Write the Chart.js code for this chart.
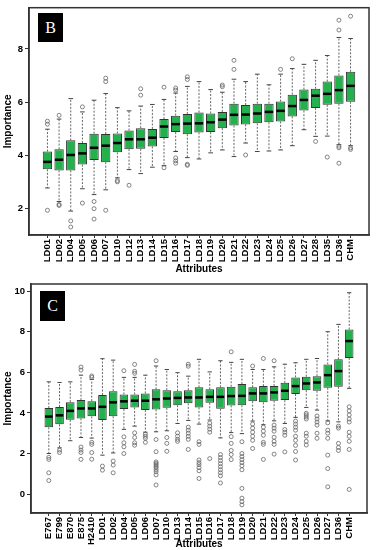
<!DOCTYPE html>
<html><head><meta charset="utf-8">
<script src="https://cdn.jsdelivr.net/npm/chart.js@4.4.1/dist/chart.umd.min.js"></script>
<style>
html,body{margin:0;padding:0;background:#fff;width:376px;height:550px;overflow:hidden}
.wrap{position:absolute;left:0;width:376px;height:275px}
.tag{position:absolute;background:#000;color:#fff;font-family:"Liberation Serif","DejaVu Serif",serif;font-size:16px;text-align:center}
</style></head><body>
<div class="wrap" style="top:0"><canvas id="cB" width="376" height="275"></canvas></div>
<div class="wrap" style="top:275px"><canvas id="cC" width="376" height="275"></canvas></div>
<div class="tag" style="left:38px;top:13px;width:25px;height:29px;line-height:29px">B</div>
<div class="tag" style="left:40px;top:291px;width:25px;height:30px;line-height:30px">C</div>
<script>
// ---------- Panel B ----------
const bCats = ['LD01','LD02','LD04','LD05','LD06','LD07','LD10','LD12','LD13','LD14','LD15','LD16','LD17','LD18','LD19','LD20','LD21','LD22','LD23','LD24','LD25','LD26','LD27','LD28','LD35','LD36','CHM'];
const bLow  = [2.77,2.26,1.90,2.74,2.52,2.70,3.15,3.46,3.31,3.55,3.61,4.14,3.91,3.86,4.09,4.20,3.95,4.46,4.14,4.16,4.20,4.36,4.96,4.71,4.72,4.40,4.36];
const bQ1   = [3.47,3.43,3.43,3.65,3.82,3.74,4.11,4.23,4.24,4.33,4.65,4.87,4.79,4.86,4.87,5.02,5.12,5.16,5.20,5.24,5.27,5.46,5.68,5.78,5.90,5.94,6.01];
const bMed  = [3.75,3.83,4.01,4.07,4.28,4.36,4.46,4.60,4.60,4.66,5.08,5.17,5.19,5.20,5.24,5.34,5.52,5.53,5.57,5.63,5.67,5.85,6.08,6.24,6.31,6.45,6.61];
const bQ3   = [4.14,4.23,4.56,4.46,4.81,4.80,4.82,4.93,5.02,4.99,5.36,5.49,5.55,5.61,5.57,5.63,5.94,5.89,5.94,5.94,6.02,6.28,6.47,6.50,6.77,7.00,7.14];
const bHigh = [4.98,5.36,6.13,5.63,6.07,6.32,5.79,5.67,5.85,5.91,6.10,6.34,6.59,6.77,6.47,6.37,6.86,6.77,7.05,6.65,7.05,7.26,7.42,7.57,7.75,8.43,8.39];
const bOut  = [[5.28,5.17,1.93],[5.50,2.15,2.11],[1.53,1.30],[5.82,2.20],[2.26,1.99,1.60],[6.90,6.77,1.93],[3.05,3.00],[2.87],[6.50,6.26],[],[6.56,3.53],[6.53,6.45,3.90,3.79,3.70],[6.95,6.85,3.66,3.62],[],[],[6.64,6.58],[7.57,7.23],[4.01],[],[],[7.23],[7.63],[],[4.52],[3.93],[9.08,8.71,4.34,4.28,3.70],[9.23,4.28,4.22]];
const bYTicks = [2,4,6,8];

// ---------- Panel C ----------
const cCats = ['E767','E799','E870','E875','H2410','LD01','LD02','LD04','LD05','LD06','LD07','LD10','LD13','LD14','LD15','LD16','LD17','LD18','LD19','LD20','LD21','LD22','LD23','LD24','LD25','LD26','LD27','LD36','CHM'];
const cLow  = [2.00,2.28,2.63,2.79,2.76,1.92,2.03,3.19,3.35,3.05,3.07,3.12,3.48,3.63,3.45,3.65,2.77,3.03,2.98,3.60,3.42,3.61,3.48,3.78,4.27,4.14,3.61,3.56,5.21];
const cQ1   = [3.29,3.44,3.66,3.73,3.83,3.65,3.84,4.19,4.27,4.14,4.17,4.25,4.38,4.47,4.27,4.50,4.20,4.37,4.38,4.58,4.52,4.60,4.63,4.93,5.12,5.09,5.24,5.29,6.71];
const cMed  = [3.82,3.88,4.10,4.22,4.22,4.30,4.52,4.57,4.60,4.60,4.67,4.71,4.74,4.76,4.76,4.79,4.79,4.83,4.84,4.96,4.96,5.01,5.09,5.32,5.45,5.50,5.86,6.06,7.54];
const cQ3   = [4.24,4.29,4.53,4.63,4.58,4.88,5.07,4.91,4.91,4.96,5.16,5.12,5.07,5.12,5.26,5.16,5.26,5.29,5.42,5.26,5.32,5.32,5.48,5.75,5.78,5.81,6.39,6.64,8.11];
const cHigh = [5.53,5.50,5.53,5.86,5.65,6.67,6.60,5.75,5.75,5.86,6.31,6.14,5.98,5.81,6.64,6.02,6.57,6.49,6.64,6.14,6.14,6.27,6.40,6.47,6.64,6.68,8.00,8.36,9.92];
const cOut  = [[1.81,1.71,1.05,0.67],[2.17,2.05],[],[6.26,6.11,2.32,2.17,2.05,1.71],[5.82,5.75,2.55,2.45,2.05,1.72],[1.38,1.18],[1.63,1.43,1.05],[6.08,2.82,2.53,2.33,2.00],[6.39,6.05,5.95,3.02,2.79,2.53,2.41],[2.95,2.85,2.75,2.55],[6.57,2.69,2.09,1.59,1.52,1.45,1.37,1.30,1.20,1.10,0.95,0.45],[2.79,2.50,2.11],[3.02,2.85,2.70,2.60],[6.40,6.30,3.30,3.15,3.00,2.85,2.70,2.20],[2.58,2.45,1.68,1.55,1.45,1.30,1.15,0.77],[3.50,3.35,3.20,3.05,1.75],[1.95,1.80,1.65,1.50,1.35,1.20,1.05,0.90,0.55],[7.01,2.83,2.50,2.15,1.95,1.70],[2.58,2.00,1.85,1.70,1.55,1.40,1.20,0.28,-0.20,-0.37,-0.53],[6.31,3.45,3.25,3.05,2.85,2.65,2.25],[6.68,3.30,3.10,2.90,2.55,2.45,1.71],[6.57,3.40,3.25,3.10,2.80,2.60,2.45,1.97],[3.18,3.05,2.90,2.08],[3.60,3.45,3.30,3.15,2.85,2.65,2.40,2.10,1.68],[3.98,3.90,3.80,3.70,3.00,2.85,2.60,2.42],[3.85,3.70,3.55,3.40,3.00,2.75],[3.51,3.15,3.00,2.75,1.92,1.26,0.36],[3.35,3.25,2.50,2.30,2.15],[4.30,4.10,3.90,3.70,3.55,3.05,2.85,2.60,2.20,0.23]];
const cYTicks = [0,2,4,6,8,10];

const FONT = '"Liberation Sans", Arial, sans-serif';
const GREEN = '#22B14C';

function boxPlugin(low, med, high){
  return {
    id: 'boxExtras',
    beforeDatasetsDraw(chart){
      const {ctx, scales:{x, y}} = chart;
      const meta = chart.getDatasetMeta(0);
      ctx.save();
      meta.data.forEach((bar, i) => {
        const cx = x.getPixelForValue(i + 1);
        const hw = bar.width / 2;
        const top = Math.min(bar.y, bar.base), bot = Math.max(bar.y, bar.base);
        const yh = y.getPixelForValue(high[i]), yl = y.getPixelForValue(low[i]);
        ctx.strokeStyle = '#666'; ctx.lineWidth = 1; ctx.setLineDash([2, 1.5]);
        ctx.beginPath(); ctx.moveTo(cx, top); ctx.lineTo(cx, yh); ctx.moveTo(cx, bot); ctx.lineTo(cx, yl); ctx.stroke();
        ctx.setLineDash([]); ctx.strokeStyle = '#444';
        ctx.beginPath(); ctx.moveTo(cx - hw/2, yh); ctx.lineTo(cx + hw/2, yh); ctx.moveTo(cx - hw/2, yl); ctx.lineTo(cx + hw/2, yl); ctx.stroke();
      });
      ctx.restore();
    },
    afterDatasetsDraw(chart){
      const {ctx, scales:{y}} = chart;
      const meta = chart.getDatasetMeta(0);
      ctx.save();
      ctx.strokeStyle = '#000'; ctx.lineWidth = 2.5;
      meta.data.forEach((bar, i) => {
        const ym = y.getPixelForValue(med[i]);
        ctx.beginPath(); ctx.moveTo(bar.x - bar.width/2 + 0.5, ym); ctx.lineTo(bar.x + bar.width/2 - 0.5, ym); ctx.stroke();
      });
      ctx.restore();
    },
    afterDraw(chart){
      const {ctx, chartArea:a} = chart;
      ctx.save(); ctx.strokeStyle = '#333'; ctx.lineWidth = 1.5;
      ctx.strokeRect(a.left, a.top, a.right - a.left, a.bottom - a.top);
      ctx.restore();
    }
  };
}

function makeChart(id, cats, low, q1, med, q3, high, out, yTicks, yMin, yMax, lay){
  const n = cats.length, pad = 0.04 * n;
  const boxes = cats.map((c, i) => ({x: i + 1, y: [q1[i], q3[i]]}));
  const pts = [];
  out.forEach((arr, i) => arr.forEach(v => pts.push({x: i + 1, y: v})));
  new Chart(document.getElementById(id), {
    type: 'bar',
    data: {
      datasets: [
        {data: boxes, backgroundColor: GREEN, borderColor: '#333', borderWidth: 1, borderSkipped: false,
         categoryPercentage: 1, barPercentage: 0.8},
        {type: 'scatter', data: pts, pointRadius: 2, pointBorderWidth: 0.8,
         pointBorderColor: '#666', pointBackgroundColor: 'rgba(0,0,0,0)', showLine: false}
      ]
    },
    options: {
      responsive: false, animation: false,
      layout: {padding: {left: 0, right: lay.right, top: lay.top, bottom: 0}},
      plugins: {legend: {display: false}, tooltip: {enabled: false}},
      scales: {
        x: {
          type: 'linear', min: 0.5 - pad, max: n + 0.5 + pad, offset: false,
          afterBuildTicks: s => { s.ticks = cats.map((c, i) => ({value: i + 1})); },
          afterFit: s => { s.height = lay.xh; },
          ticks: {autoSkip: false, minRotation: 90, maxRotation: 90, padding: 1, color: '#000',
                  font: {family: FONT, size: 9.5, weight: 'bold'},
                  callback: v => cats[Math.round(v) - 1] ?? ''},
          grid: {drawOnChartArea: false, drawTicks: true, tickLength: 3, color: '#333', offset: false},
          border: {display: true, color: '#333', width: 1.5},
          title: {display: true, text: 'Attributes', color: '#000', padding: {top: 0, bottom: 0},
                  font: {family: FONT, size: 10, weight: 'bold'}}
        },
        y: {
          type: 'linear', min: yMin, max: yMax,
          afterBuildTicks: s => { s.ticks = yTicks.map(v => ({value: v})); },
          afterFit: s => { s.width = lay.yw; },
          ticks: {padding: lay.tp, color: '#000', font: {family: FONT, size: 9.5, weight: 'bold'}},
          grid: {drawOnChartArea: false, drawTicks: true, tickLength: 4, color: '#333'},
          border: {display: true, color: '#333', width: 1.5},
          title: {display: true, text: 'Importance', color: '#000', padding: {top: 2, bottom: 0},
                  font: {family: FONT, size: 10, weight: 'bold'}}
        }
      }
    },
    plugins: [boxPlugin(low, med, high)]
  });
}

makeChart('cB', bCats, bLow, bQ1, bMed, bQ3, bHigh, bOut, bYTicks, 1.0, 9.55, {right: 7, top: 3, xh: 40, yw: 29, tp: 2});
makeChart('cC', cCats, cLow, cQ1, cMed, cQ3, cHigh, cOut, cYTicks, -0.93, 10.35, {right: 9, top: 9, xh: 37, yw: 31, tp: 2});
</script>
</body></html>
